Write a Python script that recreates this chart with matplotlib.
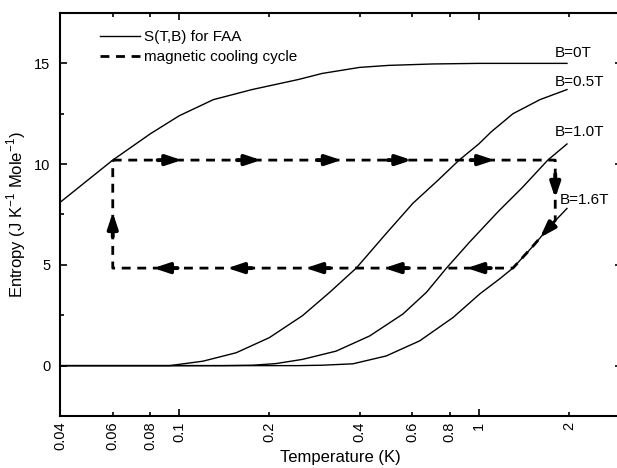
import matplotlib
matplotlib.use("Agg")
import matplotlib.pyplot as plt
from matplotlib.ticker import FixedLocator, FixedFormatter, NullFormatter

plt.rcParams['font.family'] = ['Liberation Sans', 'DejaVu Sans']

# entropy curves S(T,B)
t_b0 = [0.04, 0.06, 0.08, 0.1, 0.13, 0.175, 0.25, 0.3, 0.4, 0.5, 0.7, 1.0, 1.4, 1.97]
s_b0 = [8.1, 10.2, 11.5, 12.4, 13.2, 13.7, 14.2, 14.5, 14.8, 14.9, 14.97, 15.0, 15.0, 15.0]

t_b05 = [0.04, 0.08, 0.093, 0.12, 0.155, 0.2, 0.258, 0.318, 0.39, 0.491, 0.603, 0.731,
         0.86, 1.0, 1.1, 1.3, 1.6, 1.97]
s_b05 = [0, 0, 0, 0.22, 0.64, 1.39, 2.48, 3.64, 4.84, 6.56, 8.06, 9.2,
         10.2, 11.0, 11.6, 12.5, 13.2, 13.7]

t_b10 = [0.04, 0.14, 0.176, 0.21, 0.258, 0.334, 0.432, 0.558, 0.669, 0.78, 0.933, 1.16,
         1.4, 1.7, 1.97]
s_b10 = [0, 0, 0.02, 0.1, 0.31, 0.72, 1.47, 2.56, 3.64, 4.84, 6.14, 7.64,
         8.85, 10.2, 11.0]

t_b16 = [0.04, 0.25, 0.3, 0.38, 0.491, 0.635, 0.821, 1.008, 1.175, 1.3, 1.5, 1.75, 1.97]
s_b16 = [0, 0, 0.02, 0.09, 0.48, 1.23, 2.39, 3.56, 4.31, 4.84, 5.85, 7.0, 7.8]

curve_labels = ['B=0T', 'B=0.5T', 'B=1.0T', 'B=1.6T']
label_t = [1.80, 1.80, 1.80, 1.87]
label_s = [15.5, 14.06, 11.6, 8.2]

# magnetic cooling cycle
cycle_t = [0.06, 1.8, 1.8, 1.75, 1.5, 1.3, 0.06, 0.06]
cycle_s = [10.2, 10.2, 7.2, 7.0, 5.85, 4.84, 4.84, 10.2]
top_arrow_t = [0.093, 0.171, 0.317, 0.545, 1.03]
bottom_arrow_t = [0.09, 0.159, 0.29, 0.53, 1.0]

xticks_major = [0.1, 1]
xticks_minor = [0.04, 0.06, 0.08, 0.2, 0.4, 0.6, 0.8, 2]

fig = plt.figure(figsize=(6.17, 4.68), dpi=100)
ax = fig.add_axes([60/617, 52/468, 561.7/617, 403/468])

ax.plot(t_b0, s_b0, color='black', lw=1.0, label='S(T,B) for FAA')
ax.plot(t_b05, s_b05, color='black', lw=1.0)
ax.plot(t_b10, s_b10, color='black', lw=1.0)
ax.plot(t_b16, s_b16, color='black', lw=1.0)
ax.plot(cycle_t, cycle_s, color='black', lw=2.0, dashes=(3.2, 2.4),
        label='magnetic cooling cycle')

for lab, t, s in zip(curve_labels, label_t, label_s):
    ax.text(t, s, lab, fontsize=11, ha='left', va='center')


def arrow(x0, y0, x1, y1):
    ax.annotate('', xy=(x1, y1), xytext=(x0, y0),
                arrowprops=dict(arrowstyle='-|>,head_length=0.9,head_width=0.3',
                                lw=2.8, color='black', shrinkA=0, shrinkB=0))


f = 1.097
for t in top_arrow_t:
    arrow(t / f, cycle_s[0], t * f, cycle_s[0])
for t in bottom_arrow_t:
    arrow(t * f, cycle_s[-2], t / f, cycle_s[-2])
arrow(cycle_t[0], 6.4, cycle_t[0], 7.6)      # left side, going up
arrow(cycle_t[1], 9.5, cycle_t[1], 8.3)      # right side, going down
arrow(1.72, 6.85, 1.6, 6.35)                 # along B=1.6T

ax.set_xscale('log')
ax.set_xlim(0.04, 3.0)
ax.set_ylim(-2.5, 17.5)

ax.xaxis.set_major_locator(FixedLocator(xticks_major))
ax.xaxis.set_major_formatter(FixedFormatter([str(v) for v in [0.1, 1]]))
ax.xaxis.set_minor_locator(FixedLocator(xticks_minor))
ax.xaxis.set_minor_formatter(FixedFormatter([str(v) for v in xticks_minor]))
ax.set_yticks([0, 5, 10, 15])
ax.set_yticks([-2.5, 2.5, 7.5, 12.5, 17.5], minor=True)
ax.yaxis.set_minor_formatter(NullFormatter())

ax.tick_params(which='both', direction='in', top=True, right=True, width=1.2)
ax.tick_params(which='major', length=5)
ax.tick_params(which='minor', length=3)
ax.tick_params(axis='x', which='both', labelsize=10.5, labelrotation=90, pad=4)
ax.tick_params(axis='y', which='both', labelsize=10.5, pad=7)
for sp in ax.spines.values():
    sp.set_linewidth(1.5)

ax.set_xlabel('Temperature (K)', fontsize=12, labelpad=0)
ax.set_ylabel('Entropy (J K$^{\\mathregular{-1}}$ Mole$^{\\mathregular{-1}}$)', fontsize=12)
ax.yaxis.set_label_coords(-0.057, 0.5)

ax.legend(loc='upper left', bbox_to_anchor=(0.071, 0.958), frameon=False, fontsize=11,
          handlelength=2.6, handletextpad=0.3, labelspacing=0.4, borderpad=0,
          borderaxespad=0)

fig.savefig('out.png', dpi=100)
